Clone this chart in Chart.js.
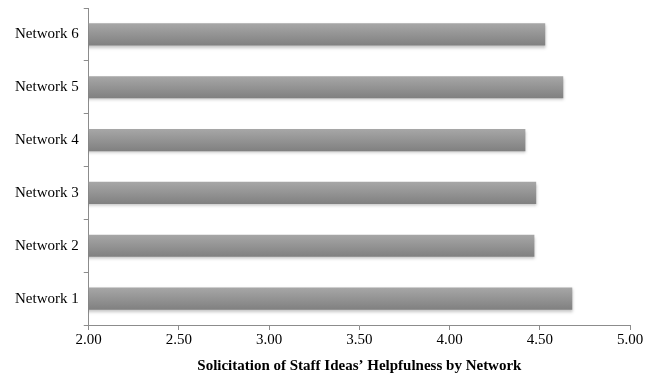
<!DOCTYPE html>
<html>
<head>
<meta charset="utf-8">
<script src="https://cdn.jsdelivr.net/npm/chart.js@4/dist/chart.umd.min.js"></script>
<style>
  html, body { margin: 0; padding: 0; background: #fff; }
  #wrap { width: 658px; height: 378px; }
</style>
</head>
<body>
<div id="wrap"><canvas id="grafico"></canvas></div>
<script>
// datos
var redes = ['Network 1', 'Network 2', 'Network 3', 'Network 4', 'Network 5', 'Network 6'];
var valores = [4.68, 4.47, 4.48, 4.42, 4.63, 4.53];
var tituloX = 'Solicitation of Staff Ideas\u2019 Helpfulness by Network';

// degradado gris de cada barra (claro arriba, oscuro abajo)
function rellenoBarra(ctx) {
    var chart = ctx.chart;
    var area = chart.chartArea;
    var y = chart.scales && chart.scales.y;
    if (!area || !y || ctx.dataIndex === undefined) return '#959595';
    var centro = y.getPixelForValue(ctx.dataIndex);
    var alto = (area.bottom - area.top) / redes.length * 0.42;
    var g = chart.ctx.createLinearGradient(0, centro - alto / 2, 0, centro + alto / 2);
    g.addColorStop(0, '#a7a7a7');
    g.addColorStop(1, '#808080');
    return g;
}

// sombra suave debajo de las barras
var sombra = {
    id: 'sombra',
    beforeDatasetsDraw: function (chart) {
        var c = chart.ctx;
        c.save();
        c.shadowColor = 'rgba(0,0,0,0.25)';
        c.shadowBlur = 3;
        c.shadowOffsetX = 1;
        c.shadowOffsetY = 2;
    },
    afterDatasetsDraw: function (chart) {
        chart.ctx.restore();
    }
};

var fuente = { family: 'Liberation Serif', size: 15 };

var ctx = document.getElementById('grafico').getContext('2d');
new Chart(ctx, {
    type: 'bar',
    data: {
        labels: redes,
        datasets: [{
            data: valores,
            backgroundColor: rellenoBarra,
            borderWidth: 0,
            barPercentage: 0.42,
            categoryPercentage: 1
        }]
    },
    options: {
        indexAxis: 'y',
        responsive: true,
        maintainAspectRatio: false,
        animation: false,
        layout: { padding: { top: 8, right: 28, left: 10, bottom: 1 } },
        plugins: {
            legend: { display: false },
            tooltip: { enabled: false }
        },
        scales: {
            x: {
                min: 2,
                max: 5,
                ticks: {
                    stepSize: 0.5,
                    color: '#000',
                    font: fuente,
                    padding: 1,
                    callback: function (v) { return v.toFixed(2); }
                },
                grid: { drawOnChartArea: false, drawTicks: true, tickLength: 5, color: '#8c8c8c' },
                border: { color: '#8c8c8c', width: 1 },
                title: {
                    display: true,
                    text: tituloX,
                    color: '#000',
                    font: { family: 'Liberation Serif', size: 15, weight: 'bold' },
                    padding: { top: 7, bottom: 2 }
                }
            },
            y: {
                reverse: true,
                ticks: {
                    color: '#000',
                    font: fuente,
                    padding: 5
                },
                grid: { drawOnChartArea: false, drawTicks: true, tickLength: 5, color: '#8c8c8c', offset: true },
                border: { color: '#8c8c8c', width: 1 },
                // las etiquetas van centradas en cada categoría, no hace falta margen extra
                afterFit: function (escala) {
                    escala.paddingTop = 0;
                    escala.paddingBottom = 0;
                }
            }
        }
    },
    plugins: [sombra]
});
</script>
</body>
</html>
